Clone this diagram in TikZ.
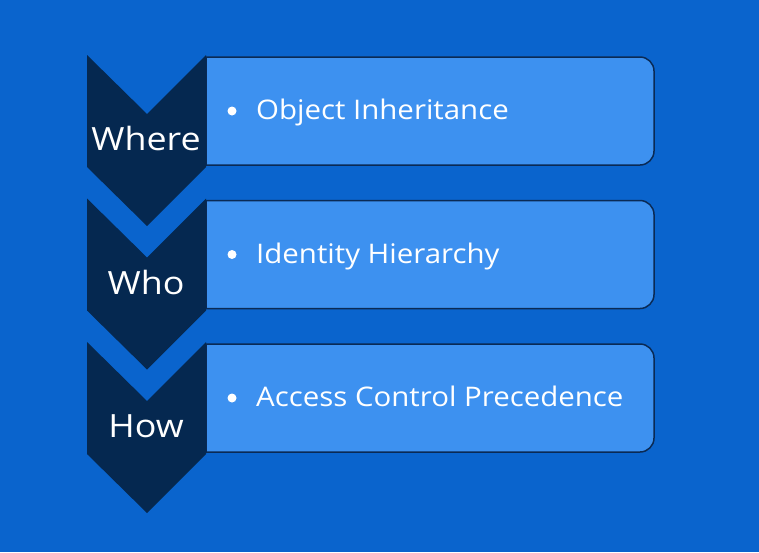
\documentclass[tikz,border=0pt]{standalone}
\usepackage{fontspec}
\setmainfont{Open Sans}
\newfontfamily\chevfont[FakeStretch=1.12]{Open Sans}
\newfontfamily\itemfont[FakeStretch=1.09]{Open Sans}
\definecolor{bgblue}{RGB}{10,100,205}
\definecolor{boxblue}{RGB}{61,145,240}
\definecolor{chevnavy}{RGB}{5,40,80}
\definecolor{boxedge}{RGB}{10,42,85}
\tikzset{
  chev/.style={fill=chevnavy, draw=none},
  itembox/.style={fill=boxblue, draw=boxedge, line width=1.5pt},
  chevtext/.style={text=white, font=\chevfont\fontsize{32}{38}\selectfont, anchor=base, inner sep=0pt},
  itemtext/.style={text=white, font=\itemfont\fontsize{27}{32}\selectfont, anchor=base west, inner sep=0pt},
  bulletdot/.style={circle, fill=white, draw=none, minimum size=9pt, inner sep=0pt}
}
\begin{document}
\begin{tikzpicture}[x=1pt,y=-1pt]
\fill[bgblue] (0,0) rectangle (759,552);
\useasboundingbox (0,0) rectangle (759,552);
\foreach \t/\lab/\item [count=\i] in {55/Where/Object Inheritance, 198.5/Who/Identity Hierarchy, 342/How/Access Control Precedence}{
  \draw[itembox] (206,\t+2) -- (640,\t+2) .. controls (647.7,\t+2) and (654,\t+8.3) .. (654,\t+16)
     -- (654,\t+96) .. controls (654,\t+103.7) and (647.7,\t+110) .. (640,\t+110) -- (206,\t+110) -- cycle;
  \path[chev] (87,\t) -- (147,\t+59) -- (206,\t) -- (206,\t+112) -- (147,\t+171) -- (87,\t+112) -- cycle;
  \node[chevtext] (c\i) at (146,\t+95.5) {\lab};
  \node[bulletdot] (b\i) at (232,\t+56) {};
  \node[itemtext] (t\i) at (256,\t+64.5) {\item};
}
\end{tikzpicture}
\end{document}
